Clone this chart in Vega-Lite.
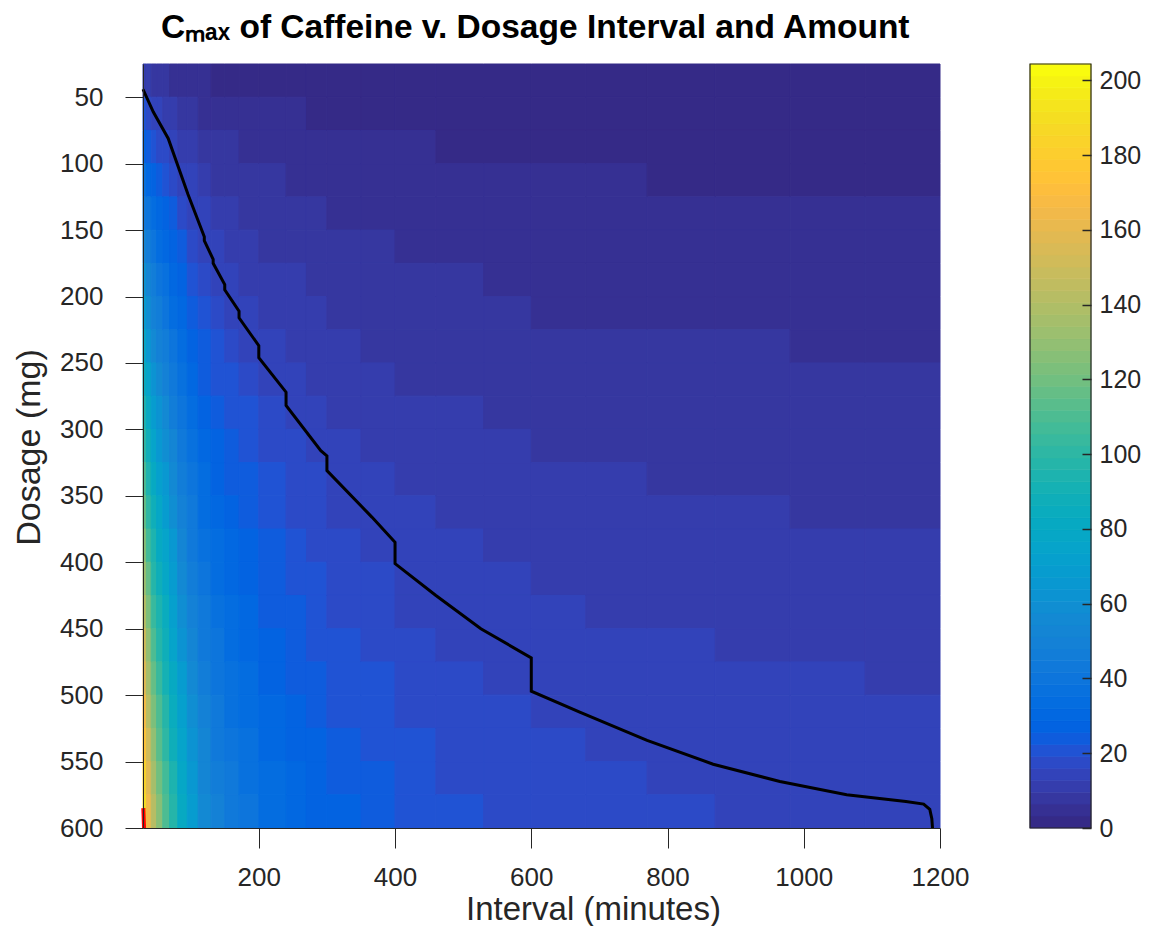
{
"$schema":"https://vega.github.io/schema/vega-lite/v6.json",
"background":"white",
"padding":{"left":12,"top":10,"right":0,"bottom":0},
"bounds":"flush",
"spacing":90,
"title":{"text":"Cₘₐₓ of Caffeine v. Dosage Interval and Amount","fontSize":33.5,"fontWeight":"bold","font":"Liberation Sans","color":"#000000","anchor":"start","frame":"group","dx":18,"offset":18},
"config":{"view":{"stroke":null},"font":"Liberation Sans","axis":{"labelFont":"Liberation Sans","titleFont":"Liberation Sans"}},
"datasets":{
"tc":[{"t":30,"t2":35},{"t":35,"t2":42},{"t":42,"t2":50},{"t":50,"t2":59},{"t":59,"t2":69},{"t":69,"t2":81},{"t":81,"t2":95},{"t":95,"t2":111},{"t":111,"t2":130},{"t":130,"t2":150},{"t":150,"t2":171},{"t":171,"t2":200},{"t":200,"t2":240},{"t":240,"t2":270},{"t":270,"t2":300},{"t":300,"t2":350},{"t":350,"t2":400},{"t":400,"t2":460},{"t":460,"t2":530},{"t":530,"t2":600},{"t":600,"t2":680},{"t":680,"t2":770},{"t":770,"t2":870},{"t":870,"t2":980},{"t":980,"t2":1090},{"t":1090,"t2":1200}],
"dr":[{"d":25,"d2":50},{"d":50,"d2":75},{"d":75,"d2":100},{"d":100,"d2":125},{"d":125,"d2":150},{"d":150,"d2":175},{"d":175,"d2":200},{"d":200,"d2":225},{"d":225,"d2":250},{"d":250,"d2":275},{"d":275,"d2":300},{"d":300,"d2":325},{"d":325,"d2":350},{"d":350,"d2":375},{"d":375,"d2":400},{"d":400,"d2":425},{"d":425,"d2":450},{"d":450,"d2":475},{"d":475,"d2":500},{"d":500,"d2":525},{"d":525,"d2":550},{"d":550,"d2":575},{"d":575,"d2":600}],
"cells":[
{"t":30,"d":25,"v":12.2},{"t":30,"d":50,"v":20.3},{"t":30,"d":75,"v":28.4},{"t":30,"d":100,"v":36.6},{"t":30,"d":125,"v":44.7},{"t":30,"d":150,"v":52.8},{"t":30,"d":175,"v":60.9},{"t":30,"d":200,"v":69.1},{"t":30,"d":225,"v":77.2},{"t":30,"d":250,"v":85.3},{"t":30,"d":275,"v":93.4},{"t":30,"d":300,"v":101.6},{"t":30,"d":325,"v":109.7},{"t":30,"d":350,"v":117.8},{"t":30,"d":375,"v":125.9},{"t":30,"d":400,"v":134.1},{"t":30,"d":425,"v":142.2},{"t":30,"d":450,"v":150.3},{"t":30,"d":475,"v":158.4},{"t":30,"d":500,"v":166.6},{"t":30,"d":525,"v":174.7},{"t":30,"d":550,"v":182.8},{"t":30,"d":575,"v":190.9},
{"t":35,"d":25,"v":10.5},{"t":35,"d":50,"v":17.5},{"t":35,"d":75,"v":24.5},{"t":35,"d":100,"v":31.5},{"t":35,"d":125,"v":38.5},{"t":35,"d":150,"v":45.5},{"t":35,"d":175,"v":52.5},{"t":35,"d":200,"v":59.5},{"t":35,"d":225,"v":66.5},{"t":35,"d":250,"v":73.5},{"t":35,"d":275,"v":80.5},{"t":35,"d":300,"v":87.5},{"t":35,"d":325,"v":94.5},{"t":35,"d":350,"v":101.5},{"t":35,"d":375,"v":108.5},{"t":35,"d":400,"v":115.5},{"t":35,"d":425,"v":122.5},{"t":35,"d":450,"v":129.5},{"t":35,"d":475,"v":136.5},{"t":35,"d":500,"v":143.5},{"t":35,"d":525,"v":150.5},{"t":35,"d":550,"v":157.5},{"t":35,"d":575,"v":164.5},
{"t":42,"d":25,"v":9},{"t":42,"d":50,"v":15},{"t":42,"d":75,"v":21},{"t":42,"d":100,"v":27},{"t":42,"d":125,"v":33},{"t":42,"d":150,"v":39},{"t":42,"d":175,"v":45},{"t":42,"d":200,"v":51},{"t":42,"d":225,"v":57},{"t":42,"d":250,"v":63},{"t":42,"d":275,"v":69},{"t":42,"d":300,"v":75},{"t":42,"d":325,"v":81},{"t":42,"d":350,"v":87},{"t":42,"d":375,"v":93},{"t":42,"d":400,"v":99},{"t":42,"d":425,"v":105},{"t":42,"d":450,"v":111},{"t":42,"d":475,"v":117},{"t":42,"d":500,"v":123},{"t":42,"d":525,"v":129},{"t":42,"d":550,"v":135},{"t":42,"d":575,"v":141},
{"t":50,"d":25,"v":8.0},{"t":50,"d":50,"v":13.3},{"t":50,"d":75,"v":18.6},{"t":50,"d":100,"v":23.9},{"t":50,"d":125,"v":29.2},{"t":50,"d":150,"v":34.5},{"t":50,"d":175,"v":39.8},{"t":50,"d":200,"v":45.1},{"t":50,"d":225,"v":50.4},{"t":50,"d":250,"v":55.7},{"t":50,"d":275,"v":61.0},{"t":50,"d":300,"v":66.3},{"t":50,"d":325,"v":71.6},{"t":50,"d":350,"v":76.9},{"t":50,"d":375,"v":82.2},{"t":50,"d":400,"v":87.5},{"t":50,"d":425,"v":92.8},{"t":50,"d":450,"v":98.1},{"t":50,"d":475,"v":103.4},{"t":50,"d":500,"v":108.7},{"t":50,"d":525,"v":114.0},{"t":50,"d":550,"v":119.3},{"t":50,"d":575,"v":124.6},
{"t":59,"d":25,"v":7.1},{"t":59,"d":50,"v":11.9},{"t":59,"d":75,"v":16.6},{"t":59,"d":100,"v":21.4},{"t":59,"d":125,"v":26.1},{"t":59,"d":150,"v":30.9},{"t":59,"d":175,"v":35.6},{"t":59,"d":200,"v":40.4},{"t":59,"d":225,"v":45.1},{"t":59,"d":250,"v":49.9},{"t":59,"d":275,"v":54.6},{"t":59,"d":300,"v":59.4},{"t":59,"d":325,"v":64.1},{"t":59,"d":350,"v":68.9},{"t":59,"d":375,"v":73.6},{"t":59,"d":400,"v":78.4},{"t":59,"d":425,"v":83.1},{"t":59,"d":450,"v":87.9},{"t":59,"d":475,"v":92.6},{"t":59,"d":500,"v":97.4},{"t":59,"d":525,"v":102.1},{"t":59,"d":550,"v":106.9},{"t":59,"d":575,"v":111.6},
{"t":69,"d":25,"v":6.2},{"t":69,"d":50,"v":10.3},{"t":69,"d":75,"v":14.4},{"t":69,"d":100,"v":18.6},{"t":69,"d":125,"v":22.7},{"t":69,"d":150,"v":26.8},{"t":69,"d":175,"v":30.9},{"t":69,"d":200,"v":35.1},{"t":69,"d":225,"v":39.2},{"t":69,"d":250,"v":43.3},{"t":69,"d":275,"v":47.4},{"t":69,"d":300,"v":51.6},{"t":69,"d":325,"v":55.7},{"t":69,"d":350,"v":59.8},{"t":69,"d":375,"v":63.9},{"t":69,"d":400,"v":68.1},{"t":69,"d":425,"v":72.2},{"t":69,"d":450,"v":76.3},{"t":69,"d":475,"v":80.4},{"t":69,"d":500,"v":84.6},{"t":69,"d":525,"v":88.7},{"t":69,"d":550,"v":92.8},{"t":69,"d":575,"v":96.9},
{"t":81,"d":25,"v":5.2},{"t":81,"d":50,"v":8.6},{"t":81,"d":75,"v":12.1},{"t":81,"d":100,"v":15.5},{"t":81,"d":125,"v":19.0},{"t":81,"d":150,"v":22.4},{"t":81,"d":175,"v":25.9},{"t":81,"d":200,"v":29.3},{"t":81,"d":225,"v":32.8},{"t":81,"d":250,"v":36.2},{"t":81,"d":275,"v":39.7},{"t":81,"d":300,"v":43.1},{"t":81,"d":325,"v":46.6},{"t":81,"d":350,"v":50.0},{"t":81,"d":375,"v":53.5},{"t":81,"d":400,"v":56.9},{"t":81,"d":425,"v":60.4},{"t":81,"d":450,"v":63.8},{"t":81,"d":475,"v":67.3},{"t":81,"d":500,"v":70.7},{"t":81,"d":525,"v":74.2},{"t":81,"d":550,"v":77.6},{"t":81,"d":575,"v":81.1},
{"t":95,"d":25,"v":4.3},{"t":95,"d":50,"v":7.2},{"t":95,"d":75,"v":10.1},{"t":95,"d":100,"v":12.9},{"t":95,"d":125,"v":15.8},{"t":95,"d":150,"v":18.7},{"t":95,"d":175,"v":21.6},{"t":95,"d":200,"v":24.4},{"t":95,"d":225,"v":27.3},{"t":95,"d":250,"v":30.2},{"t":95,"d":275,"v":33.1},{"t":95,"d":300,"v":35.9},{"t":95,"d":325,"v":38.8},{"t":95,"d":350,"v":41.7},{"t":95,"d":375,"v":44.6},{"t":95,"d":400,"v":47.4},{"t":95,"d":425,"v":50.3},{"t":95,"d":450,"v":53.2},{"t":95,"d":475,"v":56.1},{"t":95,"d":500,"v":58.9},{"t":95,"d":525,"v":61.8},{"t":95,"d":550,"v":64.7},{"t":95,"d":575,"v":67.6},
{"t":111,"d":25,"v":3.6},{"t":111,"d":50,"v":6.0},{"t":111,"d":75,"v":8.4},{"t":111,"d":100,"v":10.8},{"t":111,"d":125,"v":13.2},{"t":111,"d":150,"v":15.6},{"t":111,"d":175,"v":18.0},{"t":111,"d":200,"v":20.4},{"t":111,"d":225,"v":22.8},{"t":111,"d":250,"v":25.2},{"t":111,"d":275,"v":27.6},{"t":111,"d":300,"v":30.0},{"t":111,"d":325,"v":32.4},{"t":111,"d":350,"v":34.8},{"t":111,"d":375,"v":37.2},{"t":111,"d":400,"v":39.6},{"t":111,"d":425,"v":42.0},{"t":111,"d":450,"v":44.4},{"t":111,"d":475,"v":46.8},{"t":111,"d":500,"v":49.2},{"t":111,"d":525,"v":51.6},{"t":111,"d":550,"v":54.0},{"t":111,"d":575,"v":56.4},
{"t":130,"d":25,"v":3.1},{"t":130,"d":50,"v":5.2},{"t":130,"d":75,"v":7.3},{"t":130,"d":100,"v":9.3},{"t":130,"d":125,"v":11.4},{"t":130,"d":150,"v":13.5},{"t":130,"d":175,"v":15.6},{"t":130,"d":200,"v":17.6},{"t":130,"d":225,"v":19.7},{"t":130,"d":250,"v":21.8},{"t":130,"d":275,"v":23.9},{"t":130,"d":300,"v":25.9},{"t":130,"d":325,"v":28.0},{"t":130,"d":350,"v":30.1},{"t":130,"d":375,"v":32.2},{"t":130,"d":400,"v":34.2},{"t":130,"d":425,"v":36.3},{"t":130,"d":450,"v":38.4},{"t":130,"d":475,"v":40.5},{"t":130,"d":500,"v":42.5},{"t":130,"d":525,"v":44.6},{"t":130,"d":550,"v":46.7},{"t":130,"d":575,"v":48.8},
{"t":150,"d":25,"v":2.8},{"t":150,"d":50,"v":4.7},{"t":150,"d":75,"v":6.5},{"t":150,"d":100,"v":8.4},{"t":150,"d":125,"v":10.2},{"t":150,"d":150,"v":12.1},{"t":150,"d":175,"v":14.0},{"t":150,"d":200,"v":15.8},{"t":150,"d":225,"v":17.7},{"t":150,"d":250,"v":19.6},{"t":150,"d":275,"v":21.4},{"t":150,"d":300,"v":23.3},{"t":150,"d":325,"v":25.1},{"t":150,"d":350,"v":27.0},{"t":150,"d":375,"v":28.9},{"t":150,"d":400,"v":30.7},{"t":150,"d":425,"v":32.6},{"t":150,"d":450,"v":34.5},{"t":150,"d":475,"v":36.3},{"t":150,"d":500,"v":38.2},{"t":150,"d":525,"v":40.0},{"t":150,"d":550,"v":41.9},{"t":150,"d":575,"v":43.8},
{"t":171,"d":25,"v":2.5},{"t":171,"d":50,"v":4.2},{"t":171,"d":75,"v":5.9},{"t":171,"d":100,"v":7.5},{"t":171,"d":125,"v":9.2},{"t":171,"d":150,"v":10.9},{"t":171,"d":175,"v":12.6},{"t":171,"d":200,"v":14.2},{"t":171,"d":225,"v":15.9},{"t":171,"d":250,"v":17.6},{"t":171,"d":275,"v":19.3},{"t":171,"d":300,"v":20.9},{"t":171,"d":325,"v":22.6},{"t":171,"d":350,"v":24.3},{"t":171,"d":375,"v":26.0},{"t":171,"d":400,"v":27.6},{"t":171,"d":425,"v":29.3},{"t":171,"d":450,"v":31.0},{"t":171,"d":475,"v":32.7},{"t":171,"d":500,"v":34.3},{"t":171,"d":525,"v":36.0},{"t":171,"d":550,"v":37.7},{"t":171,"d":575,"v":39.4},
{"t":200,"d":25,"v":2.2},{"t":200,"d":50,"v":3.6},{"t":200,"d":75,"v":5.1},{"t":200,"d":100,"v":6.5},{"t":200,"d":125,"v":8.0},{"t":200,"d":150,"v":9.4},{"t":200,"d":175,"v":10.9},{"t":200,"d":200,"v":12.3},{"t":200,"d":225,"v":13.8},{"t":200,"d":250,"v":15.2},{"t":200,"d":275,"v":16.7},{"t":200,"d":300,"v":18.1},{"t":200,"d":325,"v":19.6},{"t":200,"d":350,"v":21.0},{"t":200,"d":375,"v":22.5},{"t":200,"d":400,"v":23.9},{"t":200,"d":425,"v":25.4},{"t":200,"d":450,"v":26.8},{"t":200,"d":475,"v":28.3},{"t":200,"d":500,"v":29.7},{"t":200,"d":525,"v":31.2},{"t":200,"d":550,"v":32.6},{"t":200,"d":575,"v":34.1},
{"t":240,"d":25,"v":1.9},{"t":240,"d":50,"v":3.2},{"t":240,"d":75,"v":4.5},{"t":240,"d":100,"v":5.8},{"t":240,"d":125,"v":7.1},{"t":240,"d":150,"v":8.4},{"t":240,"d":175,"v":9.7},{"t":240,"d":200,"v":10.9},{"t":240,"d":225,"v":12.2},{"t":240,"d":250,"v":13.5},{"t":240,"d":275,"v":14.8},{"t":240,"d":300,"v":16.1},{"t":240,"d":325,"v":17.4},{"t":240,"d":350,"v":18.7},{"t":240,"d":375,"v":20.0},{"t":240,"d":400,"v":21.2},{"t":240,"d":425,"v":22.5},{"t":240,"d":450,"v":23.8},{"t":240,"d":475,"v":25.1},{"t":240,"d":500,"v":26.4},{"t":240,"d":525,"v":27.7},{"t":240,"d":550,"v":29.0},{"t":240,"d":575,"v":30.3},
{"t":270,"d":25,"v":1.8},{"t":270,"d":50,"v":3.0},{"t":270,"d":75,"v":4.2},{"t":270,"d":100,"v":5.4},{"t":270,"d":125,"v":6.6},{"t":270,"d":150,"v":7.8},{"t":270,"d":175,"v":9.0},{"t":270,"d":200,"v":10.2},{"t":270,"d":225,"v":11.4},{"t":270,"d":250,"v":12.6},{"t":270,"d":275,"v":13.8},{"t":270,"d":300,"v":15.0},{"t":270,"d":325,"v":16.2},{"t":270,"d":350,"v":17.4},{"t":270,"d":375,"v":18.6},{"t":270,"d":400,"v":19.8},{"t":270,"d":425,"v":21.0},{"t":270,"d":450,"v":22.2},{"t":270,"d":475,"v":23.4},{"t":270,"d":500,"v":24.6},{"t":270,"d":525,"v":25.8},{"t":270,"d":550,"v":27.0},{"t":270,"d":575,"v":28.2},
{"t":300,"d":25,"v":1.6},{"t":300,"d":50,"v":2.7},{"t":300,"d":75,"v":3.8},{"t":300,"d":100,"v":4.9},{"t":300,"d":125,"v":6.0},{"t":300,"d":150,"v":7.1},{"t":300,"d":175,"v":8.2},{"t":300,"d":200,"v":9.3},{"t":300,"d":225,"v":10.3},{"t":300,"d":250,"v":11.4},{"t":300,"d":275,"v":12.5},{"t":300,"d":300,"v":13.6},{"t":300,"d":325,"v":14.7},{"t":300,"d":350,"v":15.8},{"t":300,"d":375,"v":16.9},{"t":300,"d":400,"v":18.0},{"t":300,"d":425,"v":19.0},{"t":300,"d":450,"v":20.1},{"t":300,"d":475,"v":21.2},{"t":300,"d":500,"v":22.3},{"t":300,"d":525,"v":23.4},{"t":300,"d":550,"v":24.5},{"t":300,"d":575,"v":25.6},
{"t":350,"d":25,"v":1.5},{"t":350,"d":50,"v":2.5},{"t":350,"d":75,"v":3.5},{"t":350,"d":100,"v":4.5},{"t":350,"d":125,"v":5.5},{"t":350,"d":150,"v":6.5},{"t":350,"d":175,"v":7.5},{"t":350,"d":200,"v":8.5},{"t":350,"d":225,"v":9.5},{"t":350,"d":250,"v":10.6},{"t":350,"d":275,"v":11.6},{"t":350,"d":300,"v":12.6},{"t":350,"d":325,"v":13.6},{"t":350,"d":350,"v":14.6},{"t":350,"d":375,"v":15.6},{"t":350,"d":400,"v":16.6},{"t":350,"d":425,"v":17.6},{"t":350,"d":450,"v":18.6},{"t":350,"d":475,"v":19.6},{"t":350,"d":500,"v":20.6},{"t":350,"d":525,"v":21.6},{"t":350,"d":550,"v":22.6},{"t":350,"d":575,"v":23.6},
{"t":400,"d":25,"v":1.4},{"t":400,"d":50,"v":2.3},{"t":400,"d":75,"v":3.2},{"t":400,"d":100,"v":4.1},{"t":400,"d":125,"v":5.0},{"t":400,"d":150,"v":5.9},{"t":400,"d":175,"v":6.8},{"t":400,"d":200,"v":7.7},{"t":400,"d":225,"v":8.6},{"t":400,"d":250,"v":9.5},{"t":400,"d":275,"v":10.4},{"t":400,"d":300,"v":11.3},{"t":400,"d":325,"v":12.2},{"t":400,"d":350,"v":13.1},{"t":400,"d":375,"v":14.0},{"t":400,"d":400,"v":14.9},{"t":400,"d":425,"v":15.8},{"t":400,"d":450,"v":16.7},{"t":400,"d":475,"v":17.7},{"t":400,"d":500,"v":18.6},{"t":400,"d":525,"v":19.5},{"t":400,"d":550,"v":20.4},{"t":400,"d":575,"v":21.3},
{"t":460,"d":25,"v":1.3},{"t":460,"d":50,"v":2.1},{"t":460,"d":75,"v":3.0},{"t":460,"d":100,"v":3.8},{"t":460,"d":125,"v":4.7},{"t":460,"d":150,"v":5.5},{"t":460,"d":175,"v":6.4},{"t":460,"d":200,"v":7.2},{"t":460,"d":225,"v":8.1},{"t":460,"d":250,"v":8.9},{"t":460,"d":275,"v":9.8},{"t":460,"d":300,"v":10.6},{"t":460,"d":325,"v":11.5},{"t":460,"d":350,"v":12.3},{"t":460,"d":375,"v":13.2},{"t":460,"d":400,"v":14.0},{"t":460,"d":425,"v":14.9},{"t":460,"d":450,"v":15.7},{"t":460,"d":475,"v":16.6},{"t":460,"d":500,"v":17.4},{"t":460,"d":525,"v":18.3},{"t":460,"d":550,"v":19.1},{"t":460,"d":575,"v":20.0},
{"t":530,"d":25,"v":1.2},{"t":530,"d":50,"v":2.0},{"t":530,"d":75,"v":2.8},{"t":530,"d":100,"v":3.7},{"t":530,"d":125,"v":4.5},{"t":530,"d":150,"v":5.3},{"t":530,"d":175,"v":6.1},{"t":530,"d":200,"v":6.9},{"t":530,"d":225,"v":7.7},{"t":530,"d":250,"v":8.5},{"t":530,"d":275,"v":9.3},{"t":530,"d":300,"v":10.2},{"t":530,"d":325,"v":11.0},{"t":530,"d":350,"v":11.8},{"t":530,"d":375,"v":12.6},{"t":530,"d":400,"v":13.4},{"t":530,"d":425,"v":14.2},{"t":530,"d":450,"v":15.0},{"t":530,"d":475,"v":15.8},{"t":530,"d":500,"v":16.7},{"t":530,"d":525,"v":17.5},{"t":530,"d":550,"v":18.3},{"t":530,"d":575,"v":19.1},
{"t":600,"d":25,"v":1.1},{"t":600,"d":50,"v":1.9},{"t":600,"d":75,"v":2.6},{"t":600,"d":100,"v":3.3},{"t":600,"d":125,"v":4.1},{"t":600,"d":150,"v":4.8},{"t":600,"d":175,"v":5.6},{"t":600,"d":200,"v":6.3},{"t":600,"d":225,"v":7.1},{"t":600,"d":250,"v":7.8},{"t":600,"d":275,"v":8.5},{"t":600,"d":300,"v":9.3},{"t":600,"d":325,"v":10.0},{"t":600,"d":350,"v":10.8},{"t":600,"d":375,"v":11.5},{"t":600,"d":400,"v":12.3},{"t":600,"d":425,"v":13.0},{"t":600,"d":450,"v":13.7},{"t":600,"d":475,"v":14.5},{"t":600,"d":500,"v":15.2},{"t":600,"d":525,"v":16.0},{"t":600,"d":550,"v":16.7},{"t":600,"d":575,"v":17.4},
{"t":680,"d":25,"v":1.1},{"t":680,"d":50,"v":1.8},{"t":680,"d":75,"v":2.5},{"t":680,"d":100,"v":3.2},{"t":680,"d":125,"v":3.9},{"t":680,"d":150,"v":4.6},{"t":680,"d":175,"v":5.4},{"t":680,"d":200,"v":6.1},{"t":680,"d":225,"v":6.8},{"t":680,"d":250,"v":7.5},{"t":680,"d":275,"v":8.2},{"t":680,"d":300,"v":8.9},{"t":680,"d":325,"v":9.7},{"t":680,"d":350,"v":10.4},{"t":680,"d":375,"v":11.1},{"t":680,"d":400,"v":11.8},{"t":680,"d":425,"v":12.5},{"t":680,"d":450,"v":13.2},{"t":680,"d":475,"v":14.0},{"t":680,"d":500,"v":14.7},{"t":680,"d":525,"v":15.4},{"t":680,"d":550,"v":16.1},{"t":680,"d":575,"v":16.8},
{"t":770,"d":25,"v":1.0},{"t":770,"d":50,"v":1.7},{"t":770,"d":75,"v":2.4},{"t":770,"d":100,"v":3.1},{"t":770,"d":125,"v":3.8},{"t":770,"d":150,"v":4.5},{"t":770,"d":175,"v":5.2},{"t":770,"d":200,"v":5.9},{"t":770,"d":225,"v":6.6},{"t":770,"d":250,"v":7.3},{"t":770,"d":275,"v":7.9},{"t":770,"d":300,"v":8.6},{"t":770,"d":325,"v":9.3},{"t":770,"d":350,"v":10.0},{"t":770,"d":375,"v":10.7},{"t":770,"d":400,"v":11.4},{"t":770,"d":425,"v":12.1},{"t":770,"d":450,"v":12.8},{"t":770,"d":475,"v":13.5},{"t":770,"d":500,"v":14.1},{"t":770,"d":525,"v":14.8},{"t":770,"d":550,"v":15.5},{"t":770,"d":575,"v":16.2},
{"t":870,"d":25,"v":1.0},{"t":870,"d":50,"v":1.7},{"t":870,"d":75,"v":2.3},{"t":870,"d":100,"v":3.0},{"t":870,"d":125,"v":3.7},{"t":870,"d":150,"v":4.4},{"t":870,"d":175,"v":5.0},{"t":870,"d":200,"v":5.7},{"t":870,"d":225,"v":6.4},{"t":870,"d":250,"v":7.0},{"t":870,"d":275,"v":7.7},{"t":870,"d":300,"v":8.4},{"t":870,"d":325,"v":9.0},{"t":870,"d":350,"v":9.7},{"t":870,"d":375,"v":10.4},{"t":870,"d":400,"v":11.1},{"t":870,"d":425,"v":11.7},{"t":870,"d":450,"v":12.4},{"t":870,"d":475,"v":13.1},{"t":870,"d":500,"v":13.7},{"t":870,"d":525,"v":14.4},{"t":870,"d":550,"v":15.1},{"t":870,"d":575,"v":15.7},
{"t":980,"d":25,"v":1.0},{"t":980,"d":50,"v":1.6},{"t":980,"d":75,"v":2.3},{"t":980,"d":100,"v":2.9},{"t":980,"d":125,"v":3.6},{"t":980,"d":150,"v":4.3},{"t":980,"d":175,"v":4.9},{"t":980,"d":200,"v":5.6},{"t":980,"d":225,"v":6.2},{"t":980,"d":250,"v":6.9},{"t":980,"d":275,"v":7.5},{"t":980,"d":300,"v":8.2},{"t":980,"d":325,"v":8.8},{"t":980,"d":350,"v":9.5},{"t":980,"d":375,"v":10.2},{"t":980,"d":400,"v":10.8},{"t":980,"d":425,"v":11.5},{"t":980,"d":450,"v":12.1},{"t":980,"d":475,"v":12.8},{"t":980,"d":500,"v":13.4},{"t":980,"d":525,"v":14.1},{"t":980,"d":550,"v":14.7},{"t":980,"d":575,"v":15.4},
{"t":1090,"d":25,"v":1.0},{"t":1090,"d":50,"v":1.6},{"t":1090,"d":75,"v":2.3},{"t":1090,"d":100,"v":2.9},{"t":1090,"d":125,"v":3.6},{"t":1090,"d":150,"v":4.2},{"t":1090,"d":175,"v":4.8},{"t":1090,"d":200,"v":5.5},{"t":1090,"d":225,"v":6.1},{"t":1090,"d":250,"v":6.8},{"t":1090,"d":275,"v":7.4},{"t":1090,"d":300,"v":8.1},{"t":1090,"d":325,"v":8.7},{"t":1090,"d":350,"v":9.4},{"t":1090,"d":375,"v":10.0},{"t":1090,"d":400,"v":10.6},{"t":1090,"d":425,"v":11.3},{"t":1090,"d":450,"v":11.9},{"t":1090,"d":475,"v":12.6},{"t":1090,"d":500,"v":13.2},{"t":1090,"d":525,"v":13.9},{"t":1090,"d":550,"v":14.5},{"t":1090,"d":575,"v":15.2}
],
"contour":[{"o":1,"t":30,"d":44},{"o":2,"t":45,"d":61},{"o":3,"t":67,"d":81},{"o":4,"t":96,"d":123},{"o":5,"t":120,"d":155},{"o":6,"t":120,"d":158},{"o":7,"t":133,"d":172},{"o":8,"t":133,"d":175},{"o":9,"t":150,"d":191},{"o":10,"t":150,"d":195},{"o":11,"t":171,"d":211},{"o":12,"t":171,"d":216},{"o":13,"t":200,"d":237},{"o":14,"t":200,"d":246},{"o":15,"t":240,"d":272},{"o":16,"t":240,"d":282},{"o":17,"t":291,"d":316},{"o":18,"t":300,"d":320},{"o":19,"t":300,"d":331},{"o":20,"t":366,"d":366},{"o":21,"t":400,"d":385},{"o":22,"t":400,"d":401},{"o":23,"t":460,"d":425},{"o":24,"t":526,"d":450},{"o":25,"t":600,"d":472},{"o":26,"t":600,"d":497},{"o":27,"t":672,"d":513},{"o":28,"t":770,"d":534},{"o":29,"t":867,"d":552},{"o":30,"t":965,"d":565},{"o":31,"t":1063,"d":575},{"o":32,"t":1150,"d":580},{"o":33,"t":1176,"d":582},{"o":34,"t":1185,"d":586},{"o":35,"t":1188,"d":593},{"o":36,"t":1189,"d":600}],
"red":[{"o":1,"t":30.5,"d":585},{"o":2,"t":31.5,"d":600}],
"bar":[{"lo":0,"hi":3.2},{"lo":3.2,"hi":6.39},{"lo":6.39,"hi":9.59},{"lo":9.59,"hi":12.78},{"lo":12.78,"hi":15.97},{"lo":15.97,"hi":19.17},{"lo":19.17,"hi":22.36},{"lo":22.36,"hi":25.56},{"lo":25.56,"hi":28.75},{"lo":28.75,"hi":31.94},{"lo":31.94,"hi":35.14},{"lo":35.14,"hi":38.33},{"lo":38.33,"hi":41.52},{"lo":41.52,"hi":44.72},{"lo":44.72,"hi":47.91},{"lo":47.91,"hi":51.11},{"lo":51.11,"hi":54.3},{"lo":54.3,"hi":57.49},{"lo":57.49,"hi":60.69},{"lo":60.69,"hi":63.88},{"lo":63.88,"hi":67.07},{"lo":67.07,"hi":70.27},{"lo":70.27,"hi":73.46},{"lo":73.46,"hi":76.66},{"lo":76.66,"hi":79.85},{"lo":79.85,"hi":83.04},{"lo":83.04,"hi":86.24},{"lo":86.24,"hi":89.43},{"lo":89.43,"hi":92.62},{"lo":92.62,"hi":95.82},{"lo":95.82,"hi":99.01},{"lo":99.01,"hi":102.21},{"lo":102.21,"hi":105.4},{"lo":105.4,"hi":108.59},{"lo":108.59,"hi":111.79},{"lo":111.79,"hi":114.98},{"lo":114.98,"hi":118.17},{"lo":118.17,"hi":121.37},{"lo":121.37,"hi":124.56},{"lo":124.56,"hi":127.76},{"lo":127.76,"hi":130.95},{"lo":130.95,"hi":134.14},{"lo":134.14,"hi":137.34},{"lo":137.34,"hi":140.53},{"lo":140.53,"hi":143.72},{"lo":143.72,"hi":146.92},{"lo":146.92,"hi":150.11},{"lo":150.11,"hi":153.31},{"lo":153.31,"hi":156.5},{"lo":156.5,"hi":159.69},{"lo":159.69,"hi":162.89},{"lo":162.89,"hi":166.08},{"lo":166.08,"hi":169.27},{"lo":169.27,"hi":172.47},{"lo":172.47,"hi":175.66},{"lo":175.66,"hi":178.86},{"lo":178.86,"hi":182.05},{"lo":182.05,"hi":185.24},{"lo":185.24,"hi":188.44},{"lo":188.44,"hi":191.63},{"lo":191.63,"hi":194.82},{"lo":194.82,"hi":198.02},{"lo":198.02,"hi":201.21},{"lo":201.21,"hi":204.4}],
"frame":[{"lo":0,"hi":204.4}]
},
"hconcat":[
{
"width":797,"height":764,
"layer":[
{"data":{"name":"cells"},
"transform":[{"lookup":"t","from":{"data":{"name":"tc"},"key":"t","fields":["t2"]}},{"lookup":"d","from":{"data":{"name":"dr"},"key":"d","fields":["d2"]}}],
"mark":{"type":"rect","strokeWidth":1},
"encoding":{
"x":{"field":"t","type":"quantitative","scale":{"domain":[30,1200],"nice":false,"zero":false},"axis":{"title":"Interval (minutes)","values":[200,400,600,800,1000,1200],"format":"d","grid":false,"tickSize":20,"labelPadding":16,"labelFontSize":26,"labelColor":"#262626","labelFlush":false,"labelOverlap":false,"tickColor":"#262626","domainColor":"#262626","titleFontSize":33,"titleFontWeight":"normal","titleColor":"#262626","titleX":450,"titleY":91,"titleBaseline":"alphabetic","titleAlign":"center","zindex":1}},
"x2":{"field":"t2"},
"y":{"field":"d","type":"quantitative","scale":{"domain":[25,600],"reverse":true,"nice":false,"zero":false},"axis":{"title":"Dosage (mg)","values":[50,100,150,200,250,300,350,400,450,500,550,600],"format":"d","grid":false,"tickSize":18,"labelPadding":22,"labelFontSize":26,"labelColor":"#262626","labelFlush":false,"labelOverlap":false,"tickColor":"#262626","domainColor":"#262626","titleFontSize":34,"titleFontWeight":"normal","titleColor":"#262626","titleX":-104,"titleY":383,"titleAngle":-90,"titleBaseline":"alphabetic","titleAlign":"center","zindex":1}},
"y2":{"field":"d2"},
"color":{"field":"v","type":"quantitative","scale":{"type":"quantize","domain":[0,204.4],"nice":false,"zero":false,"range":["#352a87","#363093","#3637a0","#353dad","#3243ba","#2c4ac7","#2053d4","#0f5cdd","#0363e1","#0268e1","#046de0","#0871de","#0d75dc","#1079da","#127dd8","#1481d6","#1485d4","#1389d3","#108ed2","#0c93d2","#0998d1","#079ccf","#06a0cd","#06a4ca","#06a7c6","#07a9c2","#0aacbe","#0faeb9","#15b1b4","#1db3af","#25b5a9","#2eb7a4","#38b99e","#42bb98","#4dbc92","#59bd8c","#65be86","#71bf80","#7cbf7b","#87bf77","#92bf73","#9cbf6f","#a5be6b","#aebe67","#b7bd64","#c0bc60","#c8bc5d","#d1bb59","#d9ba56","#e1b952","#e9b94e","#f1b94a","#f8bb44","#fdbe3d","#ffc337","#fec832","#fcce2e","#fad32a","#f7d826","#f5de21","#f5e41d","#f5eb18","#f6f313","#f9fb0e"]},"legend":null},
"stroke":{"field":"v","type":"quantitative","scale":{"type":"quantize","domain":[0,204.4],"nice":false,"zero":false,"range":["#352a87","#363093","#3637a0","#353dad","#3243ba","#2c4ac7","#2053d4","#0f5cdd","#0363e1","#0268e1","#046de0","#0871de","#0d75dc","#1079da","#127dd8","#1481d6","#1485d4","#1389d3","#108ed2","#0c93d2","#0998d1","#079ccf","#06a0cd","#06a4ca","#06a7c6","#07a9c2","#0aacbe","#0faeb9","#15b1b4","#1db3af","#25b5a9","#2eb7a4","#38b99e","#42bb98","#4dbc92","#59bd8c","#65be86","#71bf80","#7cbf7b","#87bf77","#92bf73","#9cbf6f","#a5be6b","#aebe67","#b7bd64","#c0bc60","#c8bc5d","#d1bb59","#d9ba56","#e1b952","#e9b94e","#f1b94a","#f8bb44","#fdbe3d","#ffc337","#fec832","#fcce2e","#fad32a","#f7d826","#f5de21","#f5e41d","#f5eb18","#f6f313","#f9fb0e"]},"legend":null}
}},
{"data":{"name":"contour"},"mark":{"type":"line","color":"#000000","strokeWidth":3},
"encoding":{"x":{"field":"t","type":"quantitative","title":"Interval (minutes)"},"y":{"field":"d","type":"quantitative","title":"Dosage (mg)"},"order":{"field":"o","type":"quantitative"}}},
{"data":{"name":"red"},"mark":{"type":"line","color":"#ff0000","strokeWidth":4},
"encoding":{"x":{"field":"t","type":"quantitative","title":"Interval (minutes)"},"y":{"field":"d","type":"quantitative","title":"Dosage (mg)"},"order":{"field":"o","type":"quantitative"}}}
]
},
{
"width":61,"height":764,
"resolve":{"scale":{"color":"independent","stroke":"independent"}},
"layer":[
{"data":{"name":"bar"},"mark":{"type":"rect","strokeWidth":0.7},
"encoding":{
"y":{"field":"lo","type":"quantitative","scale":{"domain":[0,204.4],"nice":false,"zero":false},"axis":{"orient":"right","title":null,"values":[0,20,40,60,80,100,120,140,160,180,200],"grid":true,"gridColor":"#262626","gridWidth":1.5,"gridOpacity":1,"gridDash":[9,100],"gridDashOffset":0,"ticks":false,"domain":false,"labelPadding":8,"labelFontSize":25,"labelColor":"#262626","labelFlush":false,"labelOverlap":false,"zindex":1}},
"y2":{"field":"hi"},
"color":{"field":"lo","type":"quantitative","scale":{"type":"quantize","domain":[0,204.4],"nice":false,"zero":false,"range":["#352a87","#363093","#3637a0","#353dad","#3243ba","#2c4ac7","#2053d4","#0f5cdd","#0363e1","#0268e1","#046de0","#0871de","#0d75dc","#1079da","#127dd8","#1481d6","#1485d4","#1389d3","#108ed2","#0c93d2","#0998d1","#079ccf","#06a0cd","#06a4ca","#06a7c6","#07a9c2","#0aacbe","#0faeb9","#15b1b4","#1db3af","#25b5a9","#2eb7a4","#38b99e","#42bb98","#4dbc92","#59bd8c","#65be86","#71bf80","#7cbf7b","#87bf77","#92bf73","#9cbf6f","#a5be6b","#aebe67","#b7bd64","#c0bc60","#c8bc5d","#d1bb59","#d9ba56","#e1b952","#e9b94e","#f1b94a","#f8bb44","#fdbe3d","#ffc337","#fec832","#fcce2e","#fad32a","#f7d826","#f5de21","#f5e41d","#f5eb18","#f6f313","#f9fb0e"]},"legend":null},
"stroke":{"field":"lo","type":"quantitative","scale":{"type":"quantize","domain":[0,204.4],"nice":false,"zero":false,"range":["#352a87","#363093","#3637a0","#353dad","#3243ba","#2c4ac7","#2053d4","#0f5cdd","#0363e1","#0268e1","#046de0","#0871de","#0d75dc","#1079da","#127dd8","#1481d6","#1485d4","#1389d3","#108ed2","#0c93d2","#0998d1","#079ccf","#06a0cd","#06a4ca","#06a7c6","#07a9c2","#0aacbe","#0faeb9","#15b1b4","#1db3af","#25b5a9","#2eb7a4","#38b99e","#42bb98","#4dbc92","#59bd8c","#65be86","#71bf80","#7cbf7b","#87bf77","#92bf73","#9cbf6f","#a5be6b","#aebe67","#b7bd64","#c0bc60","#c8bc5d","#d1bb59","#d9ba56","#e1b952","#e9b94e","#f1b94a","#f8bb44","#fdbe3d","#ffc337","#fec832","#fcce2e","#fad32a","#f7d826","#f5de21","#f5e41d","#f5eb18","#f6f313","#f9fb0e"]},"legend":null}
}},
{"data":{"name":"frame"},"mark":{"type":"rect","filled":false,"color":"#262626","strokeWidth":1.2},
"encoding":{"y":{"field":"lo","type":"quantitative"},"y2":{"field":"hi"}}}
]
}
]
}
